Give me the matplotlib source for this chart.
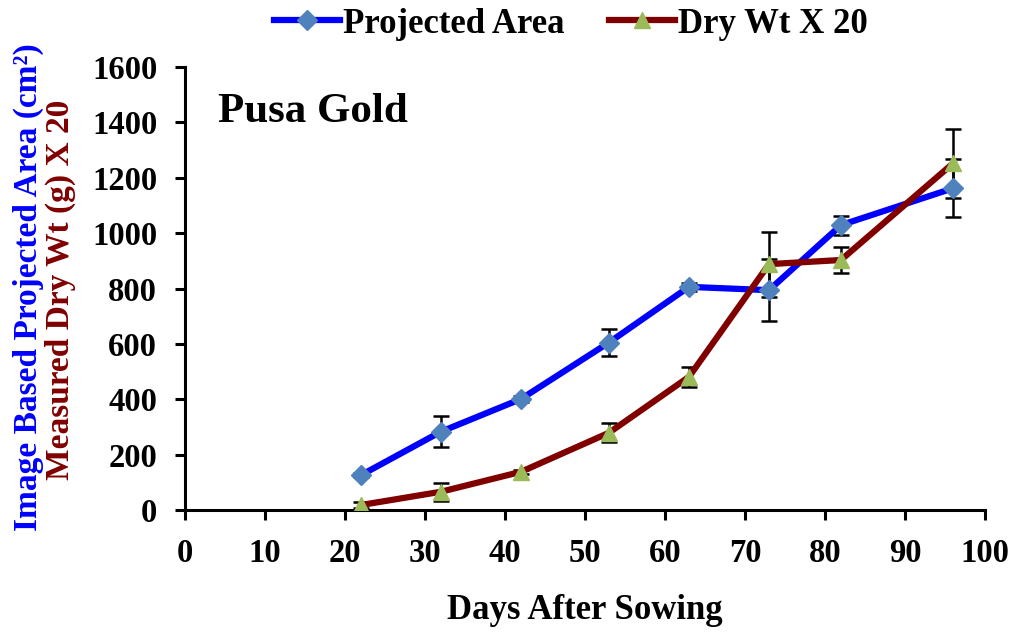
import numpy as np
import matplotlib.pyplot as plt

days = [22, 32, 42, 53, 63, 73, 82, 96]
area = [126, 283, 401, 605, 806, 794, 1029, 1162]
area_err = [8, 57, 10, 49, 14, 112, 34, 105]
drywt = [18, 66, 138, 279, 481, 888, 903, 1252]
drywt_err = [10, 33, 8, 35, 36, 117, 47, 125]

plt.rcParams['font.family'] = 'Liberation Serif'
plt.rcParams['font.weight'] = 'bold'

fig = plt.figure(figsize=(10.14, 6.32), dpi=100)
ax = fig.add_axes([0.1824, 0.193, 0.789, 0.701])

ax.errorbar(days, area, yerr=area_err, fmt='none', ecolor='black',
            elinewidth=1.8, capsize=6, capthick=1.8, zorder=2)
ax.errorbar(days, drywt, yerr=drywt_err, fmt='none', ecolor='black',
            elinewidth=1.8, capsize=6, capthick=1.8, zorder=2)
ax.plot(days, area, color='#0000ff', lw=4.5, marker='D', ms=10,
        mfc='#4f81bd', mec='#4f81bd', label='Projected Area', zorder=3)
ax.plot(days, drywt, color='#800000', lw=4.5, marker='^', ms=11,
        mfc='#9bbb59', mec='#9bbb59', label='Dry Wt X 20', zorder=4)

ax.set_xlim(0, 100)
ax.set_ylim(0, 1600)
ax.set_xticks(np.arange(0, 101, 10))
ax.set_yticks(np.arange(0, 1601, 200))
ax.spines['top'].set_visible(False)
ax.spines['right'].set_visible(False)
for s in ['left', 'bottom']:
    ax.spines[s].set_linewidth(2.2)
ax.tick_params(axis='both', labelsize=23.5, width=2.2, length=7,
               direction='out', pad=13)
for lbl in ax.get_xticklabels() + ax.get_yticklabels():
    lbl.set_fontweight('bold')

ax.set_xlabel('Days After Sowing', fontsize=25, fontweight='bold', labelpad=18)
ax.text(0.041, 0.898, 'Pusa Gold', transform=ax.transAxes, fontsize=31,
        fontweight='bold', va='center')

fig.text(0.028, 0.546, 'Image Based Projected Area (cm²)', rotation=90,
         color='#0000ff', fontsize=24, fontweight='bold', ha='center', va='center')
fig.text(0.060, 0.541, 'Measured Dry Wt (g) X 20', rotation=90,
         color='#800000', fontsize=24, fontweight='bold', ha='center', va='center')

fig.legend(loc='center', bbox_to_anchor=(0.563, 0.962), ncol=2, frameon=False,
           handlelength=1.9, columnspacing=1.3, handletextpad=0.08,
           prop={'weight': 'bold', 'size': 25})

fig.savefig('out.png', dpi=100)
